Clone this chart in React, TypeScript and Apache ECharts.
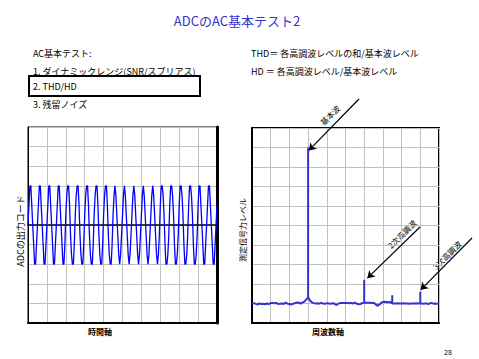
import React, { useEffect, useRef } from "react";
import * as echarts from "echarts";

// ADC output codes (in grid divisions), one row per signal period
const waveCodes = [
  0, 1, 2, 2, 1, 0, -1, -2, -2, -1,
  0, 1, 2, 2, 1, 0, -1, -2, -2, -1,
  0, 1, 2, 2, 1, 0, -1, -2, -2, -1,
  0, 1, 2, 2, 1, 0, -1, -2, -2, -1,
  0.5, 1.5, 2, 2, 1, -0.5, -1.5, -2, -2, -1,
  0.5, 1.5, 2, 2, 1, -0.5, -1.5, -2, -2, -1,
  0.5, 1.5, 2, 2, 1, -0.5, -1.5, -2, -2, -1,
  0.5, 1.5, 2, 2, 1, -0.5, -1.5, -2, -2, -1,
  0.5, 1.5, 2, 2, 1, -0.5, -1.5, -2, -2, -1,
  0.5, 1.5, 2, 1.5, 0.5, -0.5, -1.5, -2, -1.5, -0.5,
  0.5, 1.5, 2, 1.5, 0.5, -0.5, -1.5, -2, -1.5, -0.5,
  0.5, 1.5, 2, 1.5, 0.5, -0.5, -1.5, -2, -1.5, -0.5,
  0.5, 1.5, 2, 1.5, 0.5, -0.5, -1.5, -2, -1.5, -0.5,
  0.5, 1.5, 2, 1.5, 0.5, -0.5, -1.5, -2, -1.5, -0.5,
  1, 2, 2, 1.5, 0.5, -1, -2, -2, -1.5, -0.5,
  1, 2, 2, 1.5, 0.5, -1, -2, -2, -1.5, -0.5,
  1, 2, 2, 1.5, 0.5, -1, -2, -2, -1.5, -0.5,
  1, 2, 2, 1.5, 0.5, -1, -2, -2, -1.5, -0.5,
  1, 2, 2, 1, 0, -1, -2, -2, -1, 0,
  1, 2, 2, 1, 0, -1, -2, -2, -1, 0,
  1,
];

// Noise floor level per frequency bin (grid divisions)
const noiseFloor = [
  0.97, 1.02, 0.98, 0.95, 1.0, 0.97, 0.99, 0.96, 1.0, 0.97,
  1.02, 1.03, 1.01, 1.03, 0.98, 0.99, 1.0, 0.98, 1.04, 0.99,
  0.97, 0.95, 0.99, 1.02, 1.05, 1.04, 1.0, 1.05, 1.1, 1.2,
  1.32, 1.15, 1.06, 1.02, 1.0, 1.01, 0.99, 1.03, 1.0, 0.98,
  1.02, 1.0, 0.99, 1.01, 1.0, 0.92, 0.98, 1.02, 1.03, 1.03,
  1.02, 1.03, 1.01, 1.03, 1.0, 1.04, 0.99, 0.96, 0.97, 1.03,
  1.04, 1.04, 1.04, 1.04, 1.03, 1.04, 0.97, 0.88, 0.94, 1.02,
  1.08, 1.09, 1.08, 1.07, 1.08, 1.0, 1.0, 1.0, 1.01, 1.0,
  1.0, 1.01, 1.0, 1.0, 0.99, 1.0, 1.0, 1.0, 1.01, 1.0,
  1.0, 1.0, 0.98, 1.02, 0.97, 1.0, 1.03, 0.99, 1.0, 0.98,
  1.02,
];
// Spectral lines: frequency bin and level
const peakBins = [30, 60, 75, 90];
const peakLevels = [9.0, 2.22, 1.42, 1.6];

const annotationLabels = ["基本波", "2次高調波", "3次高調波"];
const annotationTargets = [
  [30.4, 8.85],
  [61.7, 2.3],
  [90.2, 1.7],
];

const titleText = "ADCのAC基本テスト2";
const menuLines = [
  "AC基本テスト:",
  "1. ダイナミックレンジ(SNR/スプリアス)",
  "2. THD/HD",
  "3. 残留ノイズ",
];
const formulaLines = [
  "THD＝ 各高調波レベルの和/基本波レベル",
  "HD ＝ 各高調波レベル/基本波レベル",
];
const axisNames = {
  leftX: "時間軸",
  leftY: "ADCの出力コード",
  rightX: "周波数軸",
  rightY: "測定信号力レベル",
};
const pageNumber = "28";

const FONT = "'Noto Sans CJK JP', 'Noto Sans', sans-serif";

function txt(text: string, x: number, y: number, opts: any = {}) {
  const align = opts.align || "left";
  return {
    type: "text",
    x,
    y,
    rotation: opts.rotation || 0,
    silent: true,
    style: {
      text,
      fill: opts.color || "#000",
      fontSize: opts.size || 9,
      fontFamily: FONT,
      fontWeight: opts.weight || "normal",
      align,
      textAlign: align,
      verticalAlign: "middle",
      textVerticalAlign: "middle",
    },
  };
}

export default function App() {
  const ref = useRef<HTMLDivElement>(null);

  useEffect(() => {
    if (!ref.current) return;
    const chart = echarts.init(ref.current, undefined, { renderer: "svg" });

    const spectrumData: number[][] = [];
    noiseFloor.forEach((v, i) => {
      spectrumData.push([i, v]);
      const k = peakBins.indexOf(i);
      if (k >= 0) {
        spectrumData.push([i, peakLevels[k]]);
        spectrumData.push([i, v]);
      }
    });

    const arrowStarts = [
      [359, 99],
      [420, 227],
      [472, 238],
    ];
    const labelPos = [
      [330, 115, Math.PI / 4],
      [402, 234, Math.PI / 4],
      [447, 255, Math.PI / 4],
    ];

    const gridLine = { show: true, lineStyle: { color: "#c0c0c0", width: 1 } };
    const noTick = { show: false };
    const noLabel = { show: false };

    const option: any = {
      animation: false,
      backgroundColor: "#fff",
      grid: [
        { left: 28, top: 127, width: 189, height: 196, show: true, borderColor: "#000", borderWidth: 1 },
        { left: 252, top: 128, width: 187, height: 195, show: true, borderColor: "#000", borderWidth: 2 },
      ],
      xAxis: [
        {
          gridIndex: 0, type: "value", min: 0, max: 200, interval: 20,
          axisLine: { show: true, onZero: true, lineStyle: { color: "#000", width: 1.5 } },
          axisTick: noTick, axisLabel: noLabel, splitLine: gridLine,
        },
        {
          gridIndex: 0, type: "value", min: 0, max: 200, interval: 20, position: "bottom",
          axisLine: { show: true, onZero: false, lineStyle: { color: "#000", width: 2 } },
          axisTick: noTick, axisLabel: noLabel, splitLine: { show: false },
        },
        {
          gridIndex: 1, type: "value", min: 0, max: 100, interval: 10,
          axisLine: { show: true, onZero: false, lineStyle: { color: "#000", width: 2 } },
          axisTick: noTick, axisLabel: noLabel, splitLine: gridLine,
        },
      ],
      yAxis: [
        {
          gridIndex: 0, type: "value", min: -5, max: 5, interval: 1,
          axisLine: { show: true, onZero: false, lineStyle: { color: "#000", width: 1 } },
          axisTick: noTick, axisLabel: noLabel, splitLine: gridLine,
        },
        {
          gridIndex: 0, type: "value", min: -5, max: 5, interval: 1, position: "right",
          axisLine: { show: true, onZero: false, lineStyle: { color: "#000", width: 3 } },
          axisTick: noTick, axisLabel: noLabel, splitLine: { show: false },
        },
        {
          gridIndex: 1, type: "value", min: 0, max: 10, interval: 1,
          axisLine: { show: true, onZero: false, lineStyle: { color: "#000", width: 2 } },
          axisTick: noTick, axisLabel: noLabel, splitLine: gridLine,
        },
      ],
      series: [
        {
          type: "line",
          xAxisIndex: 0,
          yAxisIndex: 0,
          showSymbol: false,
          silent: true,
          lineStyle: { color: "#0000ff", width: 1.3 },
          data: waveCodes.map((v, i) => [i, v]),
        },
        {
          type: "line",
          xAxisIndex: 2,
          yAxisIndex: 2,
          showSymbol: false,
          silent: true,
          clip: false,
          lineStyle: { color: "#3535cc", width: 2 },
          data: spectrumData,
          markLine: {
            silent: true,
            animation: false,
            symbol: ["none", "arrow"],
            symbolSize: 7,
            label: { show: false },
            lineStyle: { color: "#000", width: 1.2, type: "solid" },
            data: annotationTargets.map((c, i) => [
              { x: arrowStarts[i][0], y: arrowStarts[i][1] },
              { coord: c },
            ]),
          },
        },
      ],
      graphic: [
        txt(titleText, 237, 20, { size: 13, color: "#3333cc", align: "center" }),
        txt(menuLines[0], 33, 53),
        txt(menuLines[1], 33, 71),
        txt(menuLines[2], 33, 86),
        txt(menuLines[3], 33, 104),
        {
          type: "rect",
          silent: true,
          shape: { x: 29, y: 76, width: 171, height: 20 },
          style: { fill: "none", stroke: "#000", lineWidth: 2 },
        },
        txt(formulaLines[0], 251, 53),
        txt(formulaLines[1], 251, 71),
        txt(axisNames.leftX, 100, 331, { align: "center", size: 8, weight: "bold" }),
        txt(axisNames.rightX, 328, 331, { align: "center", size: 8, weight: "bold" }),
        txt(axisNames.leftY, 20, 231, { align: "center", rotation: Math.PI / 2, size: 9 }),
        txt(axisNames.rightY, 242, 230, { align: "center", rotation: Math.PI / 2, size: 8 }),
        ...annotationLabels.map((t, i) =>
          txt(t, labelPos[i][0], labelPos[i][1], { align: "center", rotation: labelPos[i][2], size: 8 })
        ),
        txt(pageNumber, 448, 352, { align: "center", size: 7 }),
      ],
    };

    chart.setOption(option);
    return () => chart.dispose();
  }, []);

  return (
    <div
      ref={ref}
      style={{ position: "absolute", left: 0, top: 0, width: 479, height: 359 }}
    />
  );
}
